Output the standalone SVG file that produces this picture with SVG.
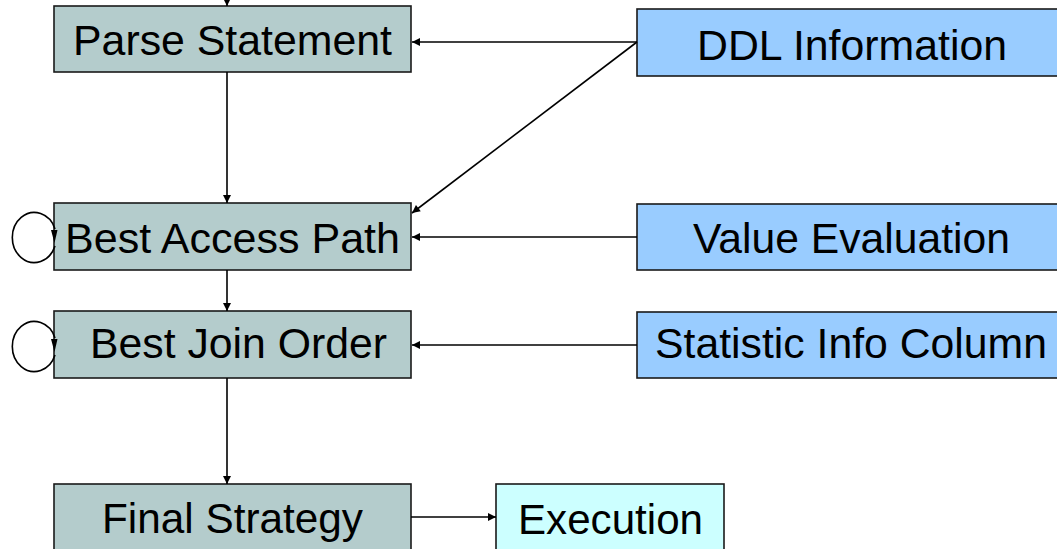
<svg xmlns="http://www.w3.org/2000/svg" width="1057" height="549" viewBox="0 0 1057 549">
<style>
.g{fill:#B4CCCC;stroke:#1a1a1a;stroke-width:1.6}
.b{fill:#99CCFF;stroke:#1a1a1a;stroke-width:1.6}
.c{fill:#CCFFFF;stroke:#1a1a1a;stroke-width:1.6}
.t{font-family:"Liberation Sans",Arial,sans-serif;font-size:43px;fill:#000}
.e{stroke:#000;stroke-width:1.6;fill:none}
</style>
<defs>
<marker id="ah" viewBox="0 0 10 10" refX="10" refY="5" markerWidth="9" markerHeight="8" markerUnits="userSpaceOnUse" orient="auto">
<path d="M0,0 L10,5 L0,10 z" fill="#000"/>
</marker>
</defs>
<rect width="1057" height="549" fill="#fff"/>
<g id="parse">
<rect class="g" x="54" y="6" width="357" height="66"/>
<text class="t" x="73" y="55" textLength="319" lengthAdjust="spacingAndGlyphs">Parse Statement</text>
</g>
<g id="access">
<rect class="g" x="54" y="203" width="357" height="67"/>
<text class="t" x="65" y="253" textLength="335" lengthAdjust="spacingAndGlyphs">Best Access Path</text>
</g>
<g id="join">
<rect class="g" x="54" y="311" width="357" height="67"/>
<text class="t" x="90" y="358" textLength="297" lengthAdjust="spacingAndGlyphs">Best Join Order</text>
</g>
<g id="final">
<rect class="g" x="54" y="484" width="357" height="80"/>
<text class="t" x="102" y="533" textLength="261" lengthAdjust="spacingAndGlyphs">Final Strategy</text>
</g>
<g id="execution">
<rect class="c" x="496" y="484" width="228" height="80"/>
<text class="t" x="518" y="534" textLength="185" lengthAdjust="spacingAndGlyphs">Execution</text>
</g>
<g id="ddl">
<rect class="b" x="637" y="9" width="440" height="67"/>
<text class="t" x="697" y="60" textLength="310" lengthAdjust="spacingAndGlyphs">DDL Information</text>
</g>
<g id="value">
<rect class="b" x="637" y="204" width="440" height="66"/>
<text class="t" x="693" y="253" textLength="317" lengthAdjust="spacingAndGlyphs">Value Evaluation</text>
</g>
<g id="statistic">
<rect class="b" x="637" y="312" width="440" height="66"/>
<text class="t" x="655" y="358" textLength="392" lengthAdjust="spacingAndGlyphs">Statistic Info Column</text>
</g>
<g id="connectors">
<line class="e" x1="227" y1="0" x2="227" y2="6" marker-end="url(#ah)"/>
<line class="e" x1="227" y1="72" x2="227" y2="203" marker-end="url(#ah)"/>
<line class="e" x1="227" y1="270" x2="227" y2="311" marker-end="url(#ah)"/>
<line class="e" x1="227" y1="378" x2="227" y2="484" marker-end="url(#ah)"/>
<line class="e" x1="637" y1="42" x2="412" y2="42" marker-end="url(#ah)"/>
<line class="e" x1="637" y1="42" x2="412" y2="213" marker-end="url(#ah)"/>
<line class="e" x1="637" y1="237" x2="412" y2="237" marker-end="url(#ah)"/>
<line class="e" x1="637" y1="345" x2="412" y2="345" marker-end="url(#ah)"/>
<line class="e" x1="411" y1="517" x2="496" y2="517" marker-end="url(#ah)"/>
<path class="e" d="M55,229 A22,25 0 1 0 55,246"/>
<path d="M51,230 L54.5,243 L57.5,230 z" fill="#000"/>
<path class="e" d="M55,338 A22,25 0 1 0 55,355"/>
<path d="M51,339 L54.5,352 L57.5,339 z" fill="#000"/>
</g>
</svg>
